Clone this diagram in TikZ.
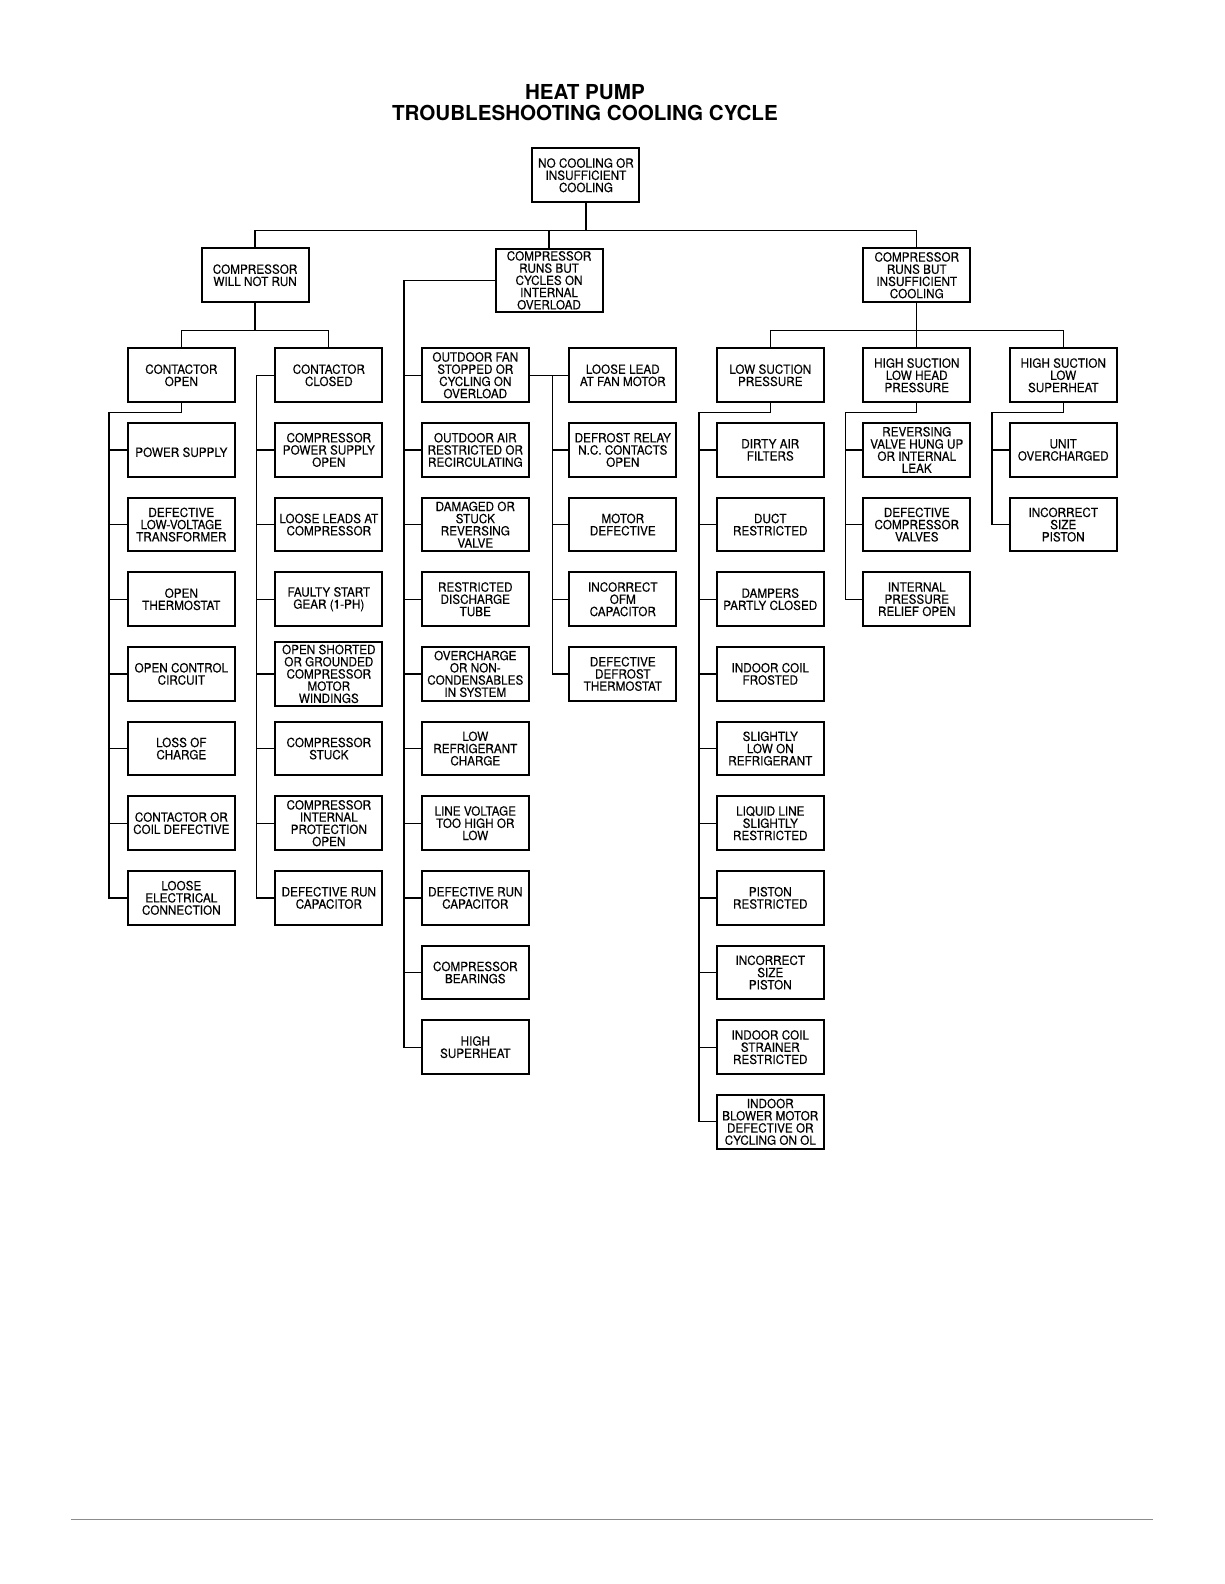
\documentclass[tikz,border=0pt]{standalone}
\usepackage{fontspec}
\setmainfont{TeX Gyre Heros}
\newfontfamily\narrowheros[FakeStretch=0.93,FakeBold=0.3]{TeX Gyre Heros}
\newcommand{\boxfont}{\narrowheros\fontsize{6.3pt}{6.1pt}\selectfont}
\newcommand{\ttlfont}{\bfseries\fontsize{10.3pt}{10.1pt}\selectfont}
\begin{document}
\begin{tikzpicture}[x=0.50495pt,y=-0.50495pt,
  tbox/.style={draw, line width=1pt, minimum width=53.5pt, minimum height=26.8pt, inner sep=0pt, align=center, font=\boxfont, execute at begin node={\rule{0pt}{7pt}}},
  tall/.style={tbox, minimum height=31.6pt},
  conn/.style={line width=0.65pt}]
\useasboundingbox (0,0) rectangle (1212,1568);
% title
\node[font=\ttlfont, align=center] (title) at (579,101.5) {HEAT PUMP\\TROUBLESHOOTING COOLING CYCLE};
% root and level 1
\node[tbox] (root) at (580,173.5) {NO COOLING OR\\INSUFFICIENT\\COOLING};
\node[tbox] (A) at (252.5,272.5) {COMPRESSOR\\WILL NOT RUN};
\node[tall] (B) at (543.5,277.5) {COMPRESSOR\\RUNS BUT\\CYCLES ON\\INTERNAL\\OVERLOAD};
\node[tbox] (C) at (907.5,272.5) {COMPRESSOR\\RUNS BUT\\INSUFFICIENT\\COOLING};
% column 1
\node[tbox] (c1r1) at (179.5,371.5) {CONTACTOR\\OPEN};
\node[tbox] (c1r2) at (179.5,445.4) {POWER SUPPLY};
\node[tbox] (c1r3) at (179.5,519.3) {DEFECTIVE\\LOW-VOLTAGE\\TRANSFORMER};
\node[tbox] (c1r4) at (179.5,593.2) {OPEN\\THERMOSTAT};
\node[tbox] (c1r5) at (179.5,667.1) {OPEN CONTROL\\CIRCUIT};
\node[tbox] (c1r6) at (179.5,741.0) {LOSS OF\\CHARGE};
\node[tbox] (c1r7) at (179.5,814.9) {CONTACTOR OR\\COIL DEFECTIVE};
\node[tbox] (c1r8) at (179.5,888.8) {LOOSE\\ELECTRICAL\\CONNECTION};
% column 2
\node[tbox] (c2r1) at (325.5,371.5) {CONTACTOR\\CLOSED};
\node[tbox] (c2r2) at (325.5,445.4) {COMPRESSOR\\POWER SUPPLY\\OPEN};
\node[tbox] (c2r3) at (325.5,519.3) {LOOSE LEADS AT\\COMPRESSOR};
\node[tbox] (c2r4) at (325.5,593.2) {FAULTY START\\GEAR (1-PH)};
\node[tall] (c2r5) at (325.5,667.1) {OPEN SHORTED\\OR GROUNDED\\COMPRESSOR\\MOTOR\\WINDINGS};
\node[tbox] (c2r6) at (325.5,741.0) {COMPRESSOR\\STUCK};
\node[tbox] (c2r7) at (325.5,814.9) {COMPRESSOR\\INTERNAL\\PROTECTION\\OPEN};
\node[tbox] (c2r8) at (325.5,888.8) {DEFECTIVE RUN\\CAPACITOR};
% column 3
\node[tbox] (c3r1) at (470.5,371.5) {OUTDOOR FAN\\STOPPED OR\\CYCLING ON\\OVERLOAD};
\node[tbox] (c3r2) at (470.5,445.4) {OUTDOOR AIR\\RESTRICTED OR\\RECIRCULATING};
\node[tbox] (c3r3) at (470.5,519.3) {DAMAGED OR\\STUCK\\REVERSING\\VALVE};
\node[tbox] (c3r4) at (470.5,593.2) {RESTRICTED\\DISCHARGE\\TUBE};
\node[tbox] (c3r5) at (470.5,667.1) {OVERCHARGE\\OR NON-\\CONDENSABLES\\IN SYSTEM};
\node[tbox] (c3r6) at (470.5,741.0) {LOW\\REFRIGERANT\\CHARGE};
\node[tbox] (c3r7) at (470.5,814.9) {LINE VOLTAGE\\TOO HIGH OR\\LOW};
\node[tbox] (c3r8) at (470.5,888.8) {DEFECTIVE RUN\\CAPACITOR};
\node[tbox] (c3r9) at (470.5,962.7) {COMPRESSOR\\BEARINGS};
\node[tbox] (c3r10) at (470.5,1036.6) {HIGH\\SUPERHEAT};
% column 4
\node[tbox] (c4r1) at (616.5,371.5) {LOOSE LEAD\\AT FAN MOTOR};
\node[tbox] (c4r2) at (616.5,445.4) {DEFROST RELAY\\N.C. CONTACTS\\OPEN};
\node[tbox] (c4r3) at (616.5,519.3) {MOTOR\\DEFECTIVE};
\node[tbox] (c4r4) at (616.5,593.2) {INCORRECT\\OFM\\CAPACITOR};
\node[tbox] (c4r5) at (616.5,667.1) {DEFECTIVE\\DEFROST\\THERMOSTAT};
% column 5
\node[tbox] (c5r1) at (762.5,371.5) {LOW SUCTION\\PRESSURE};
\node[tbox] (c5r2) at (762.5,445.4) {DIRTY AIR\\FILTERS};
\node[tbox] (c5r3) at (762.5,519.3) {DUCT\\RESTRICTED};
\node[tbox] (c5r4) at (762.5,593.2) {DAMPERS\\PARTLY CLOSED};
\node[tbox] (c5r5) at (762.5,667.1) {INDOOR COIL\\FROSTED};
\node[tbox] (c5r6) at (762.5,741.0) {SLIGHTLY\\LOW ON\\REFRIGERANT};
\node[tbox] (c5r7) at (762.5,814.9) {LIQUID LINE\\SLIGHTLY\\RESTRICTED};
\node[tbox] (c5r8) at (762.5,888.8) {PISTON\\RESTRICTED};
\node[tbox] (c5r9) at (762.5,962.7) {INCORRECT\\SIZE\\PISTON};
\node[tbox] (c5r10) at (762.5,1036.6) {INDOOR COIL\\STRAINER\\RESTRICTED};
\node[tbox] (c5r11) at (762.5,1110.5) {INDOOR\\BLOWER MOTOR\\DEFECTIVE OR\\CYCLING ON OL};
% column 6
\node[tbox] (c6r1) at (907.5,371.5) {HIGH SUCTION\\LOW HEAD\\PRESSURE};
\node[tbox] (c6r2) at (907.5,445.4) {REVERSING\\VALVE HUNG UP\\OR INTERNAL\\LEAK};
\node[tbox] (c6r3) at (907.5,519.3) {DEFECTIVE\\COMPRESSOR\\VALVES};
\node[tbox] (c6r4) at (907.5,593.2) {INTERNAL\\PRESSURE\\RELIEF OPEN};
% column 7
\node[tbox] (c7r1) at (1052.5,371.5) {HIGH SUCTION\\LOW\\SUPERHEAT};
\node[tbox] (c7r2) at (1052.5,445.4) {UNIT\\OVERCHARGED};
\node[tbox] (c7r3) at (1052.5,519.3) {INCORRECT\\SIZE\\PISTON};
% helper coordinates
\coordinate (bus1) at (0,228);
\coordinate (bus2) at (0,327);
\coordinate (sp1) at (108,408);
\coordinate (sp2) at (254,0);
\coordinate (sp3) at (400,0);
\coordinate (sp4) at (547,0);
\coordinate (sp5) at (692,408);
\coordinate (sp6) at (837,408);
\coordinate (sp7) at (982,408);
% level 1 connectors
\draw[conn] (root.south) -- (root.south |- bus1);
\draw[conn] (A.north) -- (A.north |- bus1) -- (C.north |- bus1) -- (C.north);
\draw[conn] (B.north) -- (B.north |- bus1);
% A children
\draw[conn] (A.south) -- (A.south |- bus2);
\draw[conn] (c1r1.north) -- (c1r1.north |- bus2) -- (c2r1.north |- bus2) -- (c2r1.north);
% contactor open
\draw[conn] (c1r1.south) |- (sp1) -- (sp1 |- c1r8.west) -- (c1r8.west);
\foreach \n in {c1r2,c1r3,c1r4,c1r5,c1r6,c1r7}
  \draw[conn] (sp1 |- \n.west) -- (\n.west);
% contactor closed
\draw[conn] (c2r1.west) -- (c2r1.west -| sp2) -- (sp2 |- c2r8.west) -- (c2r8.west);
\foreach \n in {c2r2,c2r3,c2r4,c2r5,c2r6,c2r7}
  \draw[conn] (sp2 |- \n.west) -- (\n.west);
% B children
\draw[conn] (B.west) -- (B.west -| sp3) -- (sp3 |- c3r10.west) -- (c3r10.west);
\foreach \n in {c3r1,c3r2,c3r3,c3r4,c3r5,c3r6,c3r7,c3r8,c3r9}
  \draw[conn] (sp3 |- \n.west) -- (\n.west);
% outdoor fan children
\draw[conn] (c3r1.east) -- (c4r1.west);
\draw[conn] (sp4 |- c3r1.east) -- (sp4 |- c4r5.west) -- (c4r5.west);
\foreach \n in {c4r2,c4r3,c4r4}
  \draw[conn] (sp4 |- \n.west) -- (\n.west);
% C children
\draw[conn] (C.south) -- (C.south |- bus2);
\draw[conn] (c5r1.north) -- (c5r1.north |- bus2) -- (c7r1.north |- bus2) -- (c7r1.north);
\draw[conn] (c6r1.north) -- (c6r1.north |- bus2);
% low suction
\draw[conn] (c5r1.south) |- (sp5) -- (sp5 |- c5r11.west) -- (c5r11.west);
\foreach \n in {c5r2,c5r3,c5r4,c5r5,c5r6,c5r7,c5r8,c5r9,c5r10}
  \draw[conn] (sp5 |- \n.west) -- (\n.west);
% high suction low head
\draw[conn] (c6r1.south) |- (sp6) -- (sp6 |- c6r4.west) -- (c6r4.west);
\foreach \n in {c6r2,c6r3}
  \draw[conn] (sp6 |- \n.west) -- (\n.west);
% high suction low superheat
\draw[conn] (c7r1.south) |- (sp7) -- (sp7 |- c7r3.west) -- (c7r3.west);
\draw[conn] (sp7 |- c7r2.west) -- (c7r2.west);
% footer rule
\draw[line width=0.5pt, black!45] (70,1504) -- (1141,1504);
\end{tikzpicture}
\end{document}
